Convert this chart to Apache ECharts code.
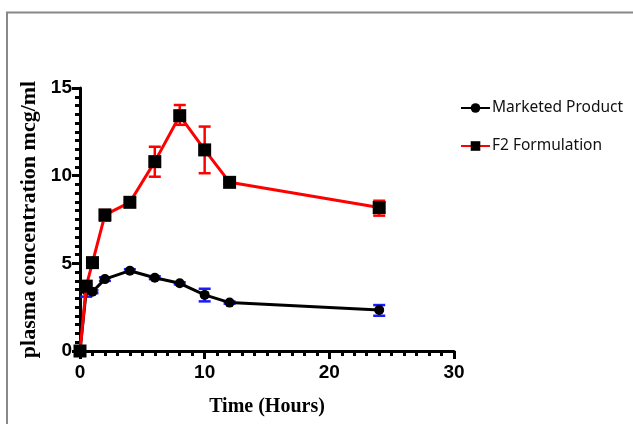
<!DOCTYPE html>
<html><head><meta charset="utf-8">
<script src="https://cdn.jsdelivr.net/npm/echarts@6/dist/echarts.min.js"></script>
<style>html,body{margin:0;padding:0;background:#fff}#c{width:633px;height:424px}</style>
</head><body><div id="c"></div>
<script>
var times = [0, 0.5, 1, 2, 4, 6, 8, 10, 12, 24];
var marketed = [0, 3.45, 3.38, 4.1, 4.58, 4.18, 3.86, 3.2, 2.76, 2.34];
var marketedLow = [0, 3.1, 3.3, 4.0, 4.5, 4.1, 3.8, 2.83, 2.7, 2.01];
var marketedHigh = [0, 3.8, 3.46, 4.2, 4.66, 4.26, 3.92, 3.55, 2.82, 2.62];
var f2 = [0, 3.7, 5.04, 7.76, 8.48, 10.8, 13.42, 11.47, 9.62, 8.18];
var f2Low = [0, 3.5, 4.9, 7.43, 8.35, 9.94, 12.9, 10.14, 9.5, 7.72];
var f2High = [0, 3.9, 5.18, 8.04, 8.61, 11.65, 14.03, 12.8, 9.74, 8.57];
var xTicks = [0, 10, 20, 30];
var yTicks = [0, 5, 10, 15];

function pairs(xs, ys) { return xs.map(function (x, i) { return [x, ys[i]]; }); }
function bars(xs, lo, hi) { return xs.map(function (x, i) { return [x, lo[i], hi[i]]; }); }
function errRender(color) {
  return function (params, api) {
    var x = api.value(0);
    var p1 = api.coord([x, api.value(1)]);
    var p2 = api.coord([x, api.value(2)]);
    var w = 6;
    var st = { stroke: color, lineWidth: 2.5 };
    return { type: 'group', children: [
      { type: 'line', shape: { x1: p1[0], y1: p1[1], x2: p2[0], y2: p2[1] }, style: st },
      { type: 'line', shape: { x1: p1[0] - w, y1: p1[1], x2: p1[0] + w, y2: p1[1] }, style: st },
      { type: 'line', shape: { x1: p2[0] - w, y1: p2[1], x2: p2[0] + w, y2: p2[1] }, style: st }
    ]};
  };
}

var chart = echarts.init(document.getElementById('c'), null, { renderer: 'canvas' });
var axisFont = { fontFamily: 'Liberation Sans, Arial', fontWeight: 'bold', fontSize: 19, color: '#000' };
chart.setOption({
  animation: false,
  backgroundColor: '#fff',
  graphic: [{ type: 'polyline', shape: { points: [[7, 430], [7, 12.5], [640, 12.5]] }, style: { stroke: '#888', lineWidth: 2, fill: null } }],
  grid: { left: 80, right: 179, top: 88, bottom: 73 },
  legend: {
    orient: 'vertical', left: 455, top: 95, itemGap: 22, itemWidth: 29, itemHeight: 12, itemStyle: {},
    textStyle: { fontFamily: 'Noto Sans', fontSize: 15.5, color: '#111', padding: [0, 0, 0, -3] },
    data: ['Marketed Product', 'F2 Formulation']
  },
  xAxis: {
    type: 'value', min: 0, max: 30, interval: 10, splitNumber: 3,
    name: 'Time (Hours)', nameLocation: 'middle', nameGap: 46,
    nameTextStyle: { fontFamily: 'Liberation Serif, Times New Roman', fontWeight: 'bold', fontSize: 20, color: '#000' },
    axisLine: { show: true, onZero: false, lineStyle: { color: '#000', width: 3 } },
    axisTick: { show: true, inside: false, length: 8, lineStyle: { color: '#000', width: 3 } },
    minorTick: { show: true, splitNumber: 10, length: 5, lineStyle: { color: '#000', width: 3 } },
    axisLabel: Object.assign({ margin: 12, formatter: function (v) { return xTicks.indexOf(v) >= 0 ? String(v) : ''; } }, axisFont),
    splitLine: { show: false }
  },
  yAxis: {
    type: 'value', min: 0, max: 15, interval: 5,
    name: 'plasma concentration mcg/ml', nameLocation: 'middle', nameGap: 40,
    nameTextStyle: { fontFamily: 'Liberation Serif, Times New Roman', fontWeight: 'bold', fontSize: 22, color: '#000' },
    axisLine: { show: true, onZero: false, lineStyle: { color: '#000', width: 3 } },
    axisTick: { show: true, inside: false, length: 8, lineStyle: { color: '#000', width: 3 } },
    minorTick: { show: true, splitNumber: 10, length: 5, lineStyle: { color: '#000', width: 3 } },
    axisLabel: Object.assign({ margin: 8, formatter: function (v) { return yTicks.indexOf(v) >= 0 ? String(v) : ''; } }, axisFont),
    splitLine: { show: false }
  },
  series: [
    { name: 'Marketed Product', type: 'line', data: pairs(times, marketed), symbol: 'circle', symbolSize: 10,
      itemStyle: { color: '#000' }, lineStyle: { color: '#000', width: 3 }, z: 3 },
    { name: 'F2 Formulation', type: 'line', data: pairs(times, f2), symbol: 'rect', symbolSize: 13,
      itemStyle: { color: '#000' }, lineStyle: { color: '#ff0000', width: 3 }, z: 4 },
    { name: 'mErr', type: 'custom', data: bars(times, marketedLow, marketedHigh), renderItem: errRender('#1a1aff'), z: 2, silent: true },
    { name: 'fErr', type: 'custom', data: bars(times, f2Low, f2High), renderItem: errRender('#ff0000'), z: 2, silent: true }
  ]
});
</script></body></html>
